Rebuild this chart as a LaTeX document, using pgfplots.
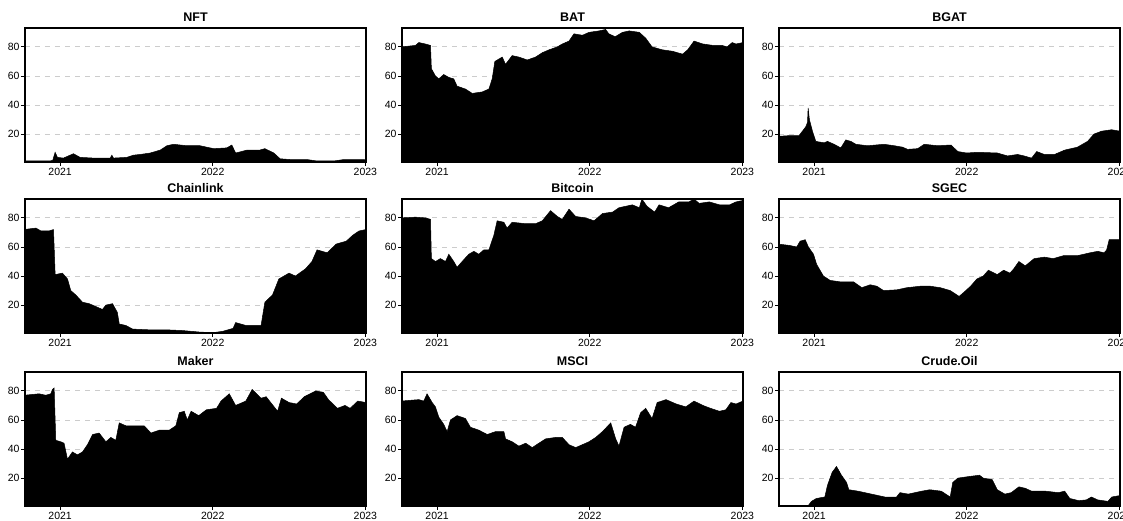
\documentclass[border=0pt]{standalone}
\usepackage{pgfplots}
\pgfplotsset{compat=1.18}
\usepackage{fontspec}
\setmainfont{Liberation Sans}
\pgfplotsset{panel/.style={
  scale only axis, width=341pt, height=134pt, anchor=north west,
  xmin=-2.76, xmax=24.05, ymin=0.8, ymax=93,
  xtick={0,12,24}, xticklabels={2021,2022,2023},
  ytick={20,40,60,80},
  xtick pos=bottom, ytick pos=left,
  tick align=outside, major tick length=4pt,
  every tick/.style={black, line width=0.9pt},
  axis line style={line width=1.6pt},
  ymajorgrids, major grid style={dash pattern=on 5pt off 5pt, color=black!20, line width=0.9pt},
  tick label style={font=\fontsize{10.5}{11}\selectfont},
  yticklabel style={xshift=2pt},
  xticklabel style={yshift=1pt},
  /pgf/number format/assume math mode=true,
  title style={font=\bfseries\fontsize{12.5}{12.5}\selectfont, yshift=-3pt},
}, area/.style={fill=black, draw=black, line width=0.5pt}}
\begin{document}
\begin{tikzpicture}
\useasboundingbox (0,0) rectangle (1123pt,-520pt);
% NFT
\begin{axis}[panel, at={(25pt,-28pt)}, title={NFT}]
\addplot[area] coordinates {(-2.76,1.5)(-0.79,1.5)(-0.58,2)(-0.39,7.5)(-0.21,4)(0.26,3.5)(1.05,6.5)(1.57,4)(2.62,3.5)(3.94,3.5)(4.07,5.5)(4.2,3.5)(5.25,4)(5.77,5.5)(6.3,6)(7.09,7)(7.87,9)(8.4,12)(8.92,13)(9.97,12)(11.0,12)(12.07,10)(13.1,10.5)(13.5,12.5)(13.8,7)(14.7,9)(15.7,9)(16.1,10)(16.8,7)(17.3,3)(18.1,2.5)(19.4,2.5)(20.2,1.5)(21.5,1.5)(22.3,2.5)(23.9,2.5)(24.05,2)} \closedcycle;
\end{axis}
% BAT
\begin{axis}[panel, at={(402pt,-28pt)}, title={BAT}]
\addplot[area] coordinates {(-2.83,80)(-1.7,81)(-1.44,83)(-0.92,82)(-0.52,81)(-0.45,65)(-0.13,60)(0.13,58)(0.52,61)(0.92,59)(1.31,58)(1.57,53)(2.23,51)(2.76,48)(3.54,49)(4.07,51)(4.33,58)(4.54,70)(5.12,73)(5.38,68)(5.9,74)(6.43,73)(7.09,71)(7.74,73)(8.27,76)(8.8,78)(9.45,80)(9.84,82)(10.37,84)(10.76,89)(11.42,88)(11.94,90)(12.73,91)(13.25,92)(13.5,89)(14.0,87)(14.57,90)(15.1,91)(15.9,90)(16.4,86)(16.9,80)(17.7,78)(18.5,77)(19.3,75)(19.7,78)(20.2,84)(20.9,82)(21.7,81)(22.4,81)(22.8,80)(23.2,83)(23.5,82)(24.05,83)} \closedcycle;
\end{axis}
% BGAT
\begin{axis}[panel, at={(779pt,-28pt)}, title={BGAT}]
\addplot[area] coordinates {(-2.8,18.5)(-1.84,19)(-1.18,19)(-0.92,22)(-0.66,25)(-0.52,28)(-0.47,38)(-0.37,30)(-0.13,22)(0.13,15)(0.79,14)(1.05,15)(1.57,13)(2.1,10.5)(2.49,16)(2.89,15)(3.28,13)(4.2,12)(5.5,13)(6.3,12)(6.96,11)(7.35,9.5)(8.14,10)(8.66,13)(9.71,12)(10.76,12.5)(11.3,8)(12.0,7)(12.84,7.5)(14.4,7)(15.2,5)(16.0,6)(16.5,5)(17.1,3.5)(17.5,8)(18.1,6)(18.9,6)(19.7,9)(20.7,11)(21.5,15)(22.0,20)(22.6,22)(23.4,23)(24.05,22)} \closedcycle;
\end{axis}
% Chainlink
\begin{axis}[panel, at={(25pt,-199pt)}, title={Chainlink}]
\addplot[area] coordinates {(-2.83,72)(-1.9,73)(-1.5,71)(-0.87,71)(-0.52,72)(-0.39,41)(0.18,42)(0.58,38)(0.84,30)(1.23,27)(1.76,22)(2.28,21)(2.81,19)(3.33,17)(3.6,20)(4.12,21)(4.5,15)(4.65,7)(5.17,6)(5.7,3.5)(7.0,3)(8.32,3)(9.63,2.5)(10.9,1.5)(12.0,1)(12.8,2)(13.6,4)(13.8,8)(14.6,6)(15.8,6)(16.1,22)(16.7,27)(17.2,38)(18.0,42)(18.5,40)(19.3,45)(19.8,50)(20.2,58)(21.0,56)(21.7,62)(22.5,64)(23.0,68)(23.5,71)(24.05,72)} \closedcycle;
\end{axis}
% Bitcoin
\begin{axis}[panel, at={(402pt,-199pt)}, title={Bitcoin}]
\addplot[area] coordinates {(-2.83,80)(-1.7,80.5)(-0.92,80)(-0.52,79)(-0.45,52)(-0.13,50)(0.26,52)(0.66,50)(0.92,55)(1.31,50)(1.57,46)(1.97,50)(2.49,55)(2.89,57)(3.28,55)(3.67,58)(4.07,58)(4.46,68)(4.72,78)(5.25,77)(5.5,73)(5.9,77)(6.96,76)(7.74,76)(8.27,78)(8.92,85)(9.45,81)(9.84,79)(10.37,86)(10.89,81)(11.68,80)(12.34,78)(13.0,83)(13.8,84)(14.3,87)(15.35,89)(15.9,87)(16.1,93)(16.5,88)(17.1,84)(17.45,89)(18.2,87)(19.0,91)(19.8,91)(20.2,93)(20.6,90)(21.4,91)(22.2,89)(23.0,89)(23.5,91)(24.05,92)} \closedcycle;
\end{axis}
% SGEC
\begin{axis}[panel, at={(779pt,-199pt)}, title={SGEC}]
\addplot[area] coordinates {(-2.8,62)(-1.9,61)(-1.37,60)(-1.1,64)(-0.7,65)(-0.45,60)(-0.05,55)(0.2,48)(0.73,40)(1.26,37)(2.05,36)(3.1,36)(3.75,32)(4.41,34)(4.93,33)(5.46,30)(6.5,30.5)(7.3,32)(8.35,33)(9.13,33)(9.92,32)(10.7,30)(11.4,26)(11.8,29)(12.3,33)(12.8,38)(13.3,40)(13.7,44)(14.4,41)(14.9,44)(15.4,42)(15.7,45)(16.1,50)(16.6,47)(17.3,52)(18.1,53)(18.8,52)(19.6,54)(20.7,54)(21.7,56)(22.3,57)(22.8,56)(23.0,58)(23.2,65)(24.05,65)} \closedcycle;
\end{axis}
% Maker
\begin{axis}[panel, at={(25pt,-372pt)}, title={Maker}]
\addplot[area] coordinates {(-2.83,77)(-1.65,78)(-1.13,77)(-0.73,78)(-0.6,81)(-0.47,82)(-0.34,46)(0.05,45)(0.31,44)(0.58,33)(0.97,38)(1.36,36)(1.76,38)(2.15,43)(2.55,50)(3.07,51)(3.6,45)(3.99,48)(4.38,46)(4.65,58)(5.17,56)(5.96,56)(6.61,56)(7.14,51)(7.8,53)(8.58,53)(9.1,56)(9.37,65)(9.76,66)(10.0,60)(10.3,66)(10.9,63)(11.5,67)(12.3,68)(12.65,73)(13.3,78)(13.8,70)(14.6,73)(15.1,81)(15.8,75)(16.2,76)(17.1,66)(17.4,75)(18.0,72)(18.6,71)(19.2,76)(20.1,80)(20.7,79)(21.1,74)(21.8,68)(22.4,70)(22.8,68)(23.4,73)(24.05,72)} \closedcycle;
\end{axis}
% MSCI
\begin{axis}[panel, at={(402pt,-372pt)}, title={MSCI}]
\addplot[area] coordinates {(-2.83,73)(-1.44,74)(-1.05,73)(-0.79,78)(-0.39,72)(-0.13,69)(0.13,62)(0.52,57)(0.79,52)(1.05,60)(1.57,63)(2.23,61)(2.62,55)(3.28,53)(3.94,50)(4.59,52)(5.25,52)(5.38,47)(5.9,45)(6.43,42)(6.96,44)(7.48,41)(8.0,44)(8.53,47)(9.32,48)(9.84,48)(10.37,43)(10.89,41)(11.42,43)(11.94,45)(12.47,48)(13.0,52)(13.65,58)(14.04,47)(14.3,42)(14.7,55)(15.2,57)(15.6,55)(16.0,65)(16.4,68)(16.9,61)(17.3,72)(18.0,74)(18.8,71)(19.55,69)(20.2,73)(20.9,70)(21.5,68)(22.2,66)(22.7,67)(23.1,72)(23.5,71)(24.05,73)} \closedcycle;
\end{axis}
% Crude.Oil
\begin{axis}[panel, at={(779pt,-372pt)}, title={Crude.Oil}]
\addplot[area] coordinates {(-2.76,1)(-0.47,1)(-0.21,4)(0.18,6)(0.84,7)(1.05,15)(1.42,24)(1.76,28)(2.15,22)(2.55,17)(2.73,12)(3.46,11)(4.51,9)(5.56,7)(6.48,7)(6.75,10)(7.4,9)(8.45,11)(9.1,12)(10.0,11)(10.7,7)(10.9,17)(11.3,20)(12.1,21)(13.0,22)(13.3,20)(14.0,19)(14.4,12)(15.0,9)(15.5,10)(16.1,14)(16.6,13)(17.1,11)(17.6,11)(18.2,11)(19.2,10)(19.7,11)(20.1,6)(20.8,4.5)(21.4,5)(21.8,7)(22.3,5)(23.1,4)(23.4,7)(24.05,8)} \closedcycle;
\end{axis}
\end{tikzpicture}
\end{document}
